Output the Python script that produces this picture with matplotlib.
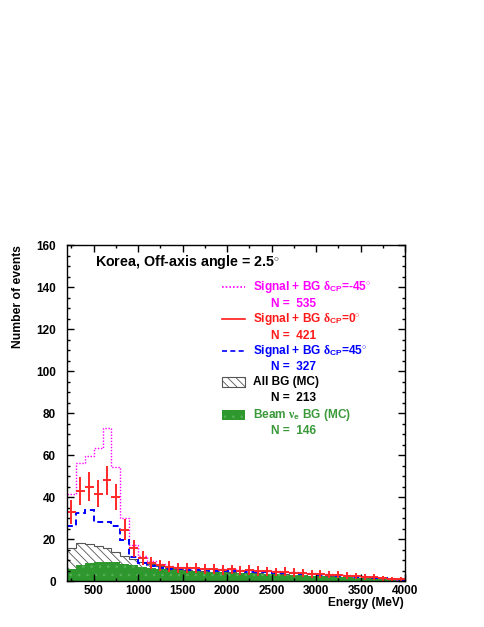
import numpy as np
import matplotlib.pyplot as plt
from matplotlib.patches import Rectangle
from matplotlib.ticker import MultipleLocator

plt.rcParams['font.family'] = 'Liberation Sans'
plt.rcParams['font.weight'] = 'bold'
plt.rcParams['mathtext.fontset'] = 'custom'
plt.rcParams['mathtext.rm'] = 'Liberation Sans:bold'
plt.rcParams['mathtext.bf'] = 'Liberation Sans:bold'
plt.rcParams['mathtext.it'] = 'Liberation Serif'
plt.rcParams['hatch.linewidth'] = 0.6

# bins of 100 MeV from 200 to 4000 MeV
energy_edges = list(range(200, 4001, 100))

# Signal + BG, dCP = -45 deg
sig_m45 = [41.5, 56, 59.5, 63.5, 73, 54.5, 30, 17, 12, 9.5,
           8, 7.2, 6.7, 6.3, 6.1, 5.9, 5.8, 5.6, 5.5, 5.3,
           5.2, 5.0, 4.8, 4.6, 4.4, 4.2, 4.0, 3.8, 3.5, 3.2,
           3.0, 2.7, 2.4, 2.1, 1.8, 1.4, 1.0, 0.6]
# Signal + BG, dCP = 0 deg (points)
sig_0 = [33, 43, 45, 41.5, 48, 40, 24.5, 15.5, 11, 8.5,
         7.5, 6.8, 6.3, 6.0, 6.1, 5.6, 5.8, 5.3, 5.5, 5.0,
         5.2, 4.8, 4.7, 4.3, 4.4, 4.0, 3.9, 3.5, 3.4, 3.0,
         2.9, 2.5, 2.3, 2.0, 1.8, 1.4, 1.1, 0.8]
err_0 = [5.7, 6.6, 6.7, 6.4, 6.9, 6.3, 4.9, 3.9, 3.3, 2.9,
         2.7, 2.6, 2.5, 2.4, 2.5, 2.4, 2.4, 2.3, 2.3, 2.2,
         2.3, 2.2, 2.2, 2.1, 2.1, 2.0, 2.0, 1.9, 1.8, 1.7,
         1.7, 1.6, 1.5, 1.4, 1.3, 1.2, 1.0, 0.9]
# Signal + BG, dCP = 45 deg
sig_p45 = [26, 32.5, 34, 28, 28.3, 26, 19.5, 11.5, 8.5, 7,
           6.3, 5.9, 5.6, 5.4, 5.3, 5.1, 5.0, 4.9, 4.8, 4.6,
           4.5, 4.3, 4.2, 4.0, 3.8, 3.6, 3.4, 3.2, 3.0, 2.8,
           2.5, 2.3, 2.0, 1.8, 1.5, 1.2, 0.9, 0.5]
# all background (MC)
all_bg = [15.5, 18, 17.5, 16.5, 15.5, 13.8, 12, 10.5, 9.2, 8.0,
          7.0, 6.2, 5.6, 5.2, 4.9, 4.7, 4.5, 4.3, 4.1, 3.9,
          3.8, 3.6, 3.5, 3.3, 3.1, 3.0, 2.8, 2.6, 2.4, 2.2,
          2.0, 1.8, 1.6, 1.4, 1.2, 0.9, 0.7, 0.4]
# beam nu_e background (MC)
beam_nue = [5.5, 7.5, 8.5, 9.2, 9.2, 9.0, 8.3, 7.5, 6.8, 6.3,
            5.9, 5.5, 5.2, 4.9, 4.7, 4.5, 4.3, 4.1, 3.9, 3.8,
            3.6, 3.5, 3.3, 3.2, 3.0, 2.9, 2.7, 2.5, 2.3, 2.1,
            1.9, 1.7, 1.5, 1.3, 1.1, 0.8, 0.6, 0.3]

n_labels = ['N =  535', 'N =  421', 'N =  327', 'N =  213', 'N =  146']

edges = np.array(energy_edges)
centers = (edges[:-1] + edges[1:]) / 2
half_w = (edges[1] - edges[0]) / 2

W, H = 485, 627
fig = plt.figure(figsize=(W / 100, H / 100), dpi=100)
L, R, T, B = 67, 405, 245, 581
ax = fig.add_axes([L / W, 1 - B / H, (R - L) / W, (B - T) / H])

def axc(px, py):
    return (px - L) / (R - L), (B - py) / (B - T)

ax.stairs(all_bg, edges, fill=True, facecolor='white', edgecolor='#555555',
          hatch='\\\\\\\\', linewidth=0.8)
ax.stairs(beam_nue, edges, fill=True, facecolor='#2e982e', edgecolor='#55b055',
          hatch='..', linewidth=0)
ax.stairs(sig_m45, edges, color='#ff00ff', linestyle=(0, (1, 1.2)), linewidth=1.0, baseline=None)
ax.stairs(sig_p45, edges, color='#0000ff', linestyle=(0, (3, 2)), linewidth=1.4, baseline=None)
ax.errorbar(centers, sig_0, yerr=err_0, xerr=half_w, fmt='none',
            ecolor='#ff2828', elinewidth=1.4, capsize=0)

ax.set_xlim(200, 4000)
ax.set_ylim(0, 160)
ax.xaxis.set_major_locator(MultipleLocator(500))
ax.xaxis.set_minor_locator(MultipleLocator(250))
ax.yaxis.set_major_locator(MultipleLocator(20))
ax.yaxis.set_minor_locator(MultipleLocator(5))
ax.tick_params(which='both', direction='in', top=True, right=True, labelsize=8.5, width=1)
ax.tick_params(which='major', length=5)
ax.tick_params(which='minor', length=2.5)
ax.tick_params(axis='x', pad=3)
ax.tick_params(axis='y', pad=8)
for s in ax.spines.values():
    s.set_linewidth(1.0)

fig.text(18 / W, 1 - 245 / H, 'Number of events', rotation=90, ha='center', va='top', fontsize=8.7)
fig.text(404 / W, 1 - 603 / H, 'Energy (MeV)', ha='right', va='center', fontsize=8.6)

ax.text(*axc(95, 262), r'Korea, Off-axis angle = 2.5$^{\circ}$', fontsize=10.3,
        va='center', ha='left', transform=ax.transAxes)

# legend block
entries = [
    (r'Signal + BG $\delta_{\rm CP}$=-45$^{\circ}$', '#ff00ff', 287, 304, 'line', (0, (1, 1.2))),
    (r'Signal + BG $\delta_{\rm CP}$=0$^{\circ}$', '#ff1a1a', 319, 336, 'line', '-'),
    (r'Signal + BG $\delta_{\rm CP}$=45$^{\circ}$', '#0000ff', 351, 367, 'line', (0, (3, 2))),
    ('All BG (MC)', 'black', 382, 398, 'hatch', None),
    (r'Beam $\nu_{\rm e}$ BG (MC)', '#3a9a3a', 415, 431, 'fill', None),
]
for (label, col, ly, ny, kind, ls), nlab in zip(entries, n_labels):
    if kind == 'line':
        x0, y0 = axc(222, ly)
        x1, _ = axc(245, ly)
        ax.plot([x0, x1], [y0, y0], color=col, linestyle=ls, linewidth=1.2,
                transform=ax.transAxes, clip_on=False)
    else:
        x0, y0 = axc(222, ly + 5)
        x1, y1 = axc(245, ly - 5)
        if kind == 'hatch':
            rect = Rectangle((x0, y0), x1 - x0, y1 - y0, facecolor='white',
                             edgecolor='#555555', hatch='\\\\\\\\', linewidth=0.8,
                             transform=ax.transAxes)
        else:
            rect = Rectangle((x0, y0), x1 - x0, y1 - y0, facecolor='#2e982e',
                             edgecolor='#55b055', hatch='..', linewidth=0,
                             transform=ax.transAxes)
        ax.add_patch(rect)
    ax.text(*axc(253, ly), label, color=col, fontsize=8.6, ha='left', va='center',
            transform=ax.transAxes)
    ax.text(*axc(271, ny), nlab, color=col, fontsize=8.6, ha='left', va='center',
            transform=ax.transAxes)

fig.savefig('out.png', dpi=100)
